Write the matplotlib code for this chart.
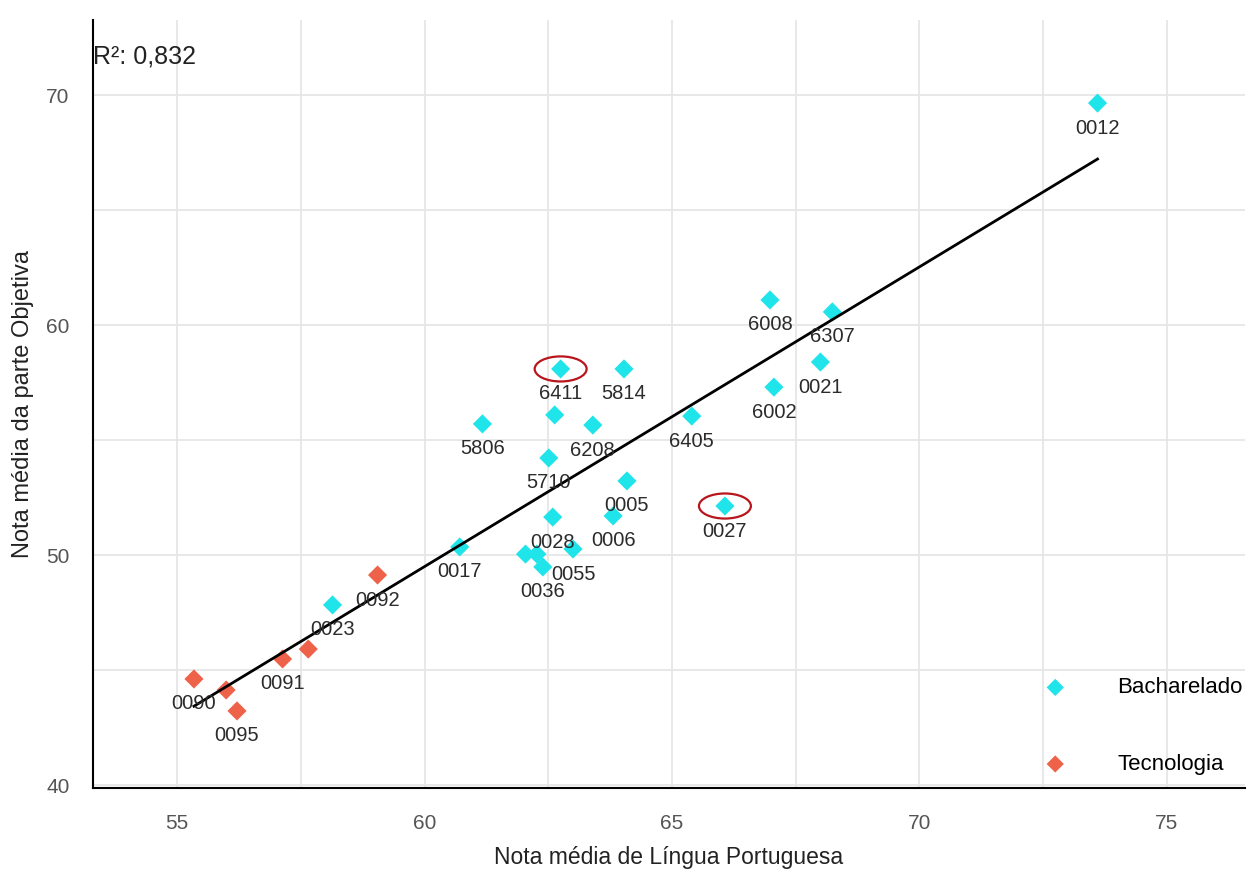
import numpy as np
import matplotlib
matplotlib.use('Agg')
from matplotlib import pyplot as plt
from matplotlib.patches import Ellipse
from matplotlib.ticker import MultipleLocator

plt.rcParams['font.family'] = ['Liberation Sans', 'DejaVu Sans']

# Bacharelado
bach_ids = ['0012', '6008', '6307', '0021', '6002', '6405', '6411', '5814', '', '5806',
            '6208', '5710', '0005', '0006', '0028', '0027', '0017', '', '', '0036',
            '0055', '0023']
bach_x = [73.60, 66.98, 68.24, 68.00, 67.06, 65.40, 62.75, 64.03, 62.63, 61.17,
          63.40, 62.51, 64.09, 63.81, 62.59, 66.07, 60.71, 62.04, 62.27, 62.39,
          63.00, 58.14]
bach_y = [69.65, 61.09, 60.57, 58.39, 57.30, 56.04, 58.09, 58.09, 56.09, 55.70,
          55.65, 54.22, 53.22, 51.70, 51.65, 52.13, 50.35, 50.04, 50.04, 49.48,
          50.26, 47.83]

# Tecnologia
tec_ids = ['0092', '0091', '', '0090', '', '0095']
tec_x = [59.05, 57.13, 57.65, 55.34, 55.99, 56.21]
tec_y = [49.13, 45.48, 45.91, 44.61, 44.13, 43.22]

destaque = ['6411', '0027']  # pontos circulados
r2_txt = 'R²: 0,832'

cor_bach = '#1FE4EA'
cor_tec = '#EE624A'

fig = plt.figure(figsize=(12.52, 8.71), dpi=100)
ax = fig.add_axes([0.0743, 0.0953, 0.9201, 0.8817])

# grade estilo ggplot
ax.xaxis.set_major_locator(MultipleLocator(5))
ax.xaxis.set_minor_locator(MultipleLocator(2.5))
ax.yaxis.set_major_locator(MultipleLocator(10))
ax.yaxis.set_minor_locator(MultipleLocator(5))
ax.grid(True, which='both', color='#E6E6E6', lw=1.3, zorder=0)
ax.set_axisbelow(True)

ax.scatter(bach_x, bach_y, marker='D', s=95, color=cor_bach, edgecolors='none',
           label='Bacharelado', zorder=3)
ax.scatter(tec_x, tec_y, marker='D', s=95, color=cor_tec, edgecolors='none',
           label='Tecnologia', zorder=3)

# reta de regressão
all_x = np.array(bach_x + tec_x)
all_y = np.array(bach_y + tec_y)
a, b = np.polyfit(all_x, all_y, 1)
xs = np.array([all_x.min(), all_x.max()])
ax.plot(xs, a * xs + b, color='black', lw=2, zorder=4)

# rótulos
for ids, xv, yv in [(bach_ids, bach_x, bach_y), (tec_ids, tec_x, tec_y)]:
    for t, x, y in zip(ids, xv, yv):
        if t:
            ax.annotate(t, (x, y), xytext=(0, -18), textcoords='offset points',
                        ha='center', va='center', fontsize=14.5, color='#2B2B2B', zorder=5)
        if t in destaque:
            ax.add_patch(Ellipse((x, y), 1.05, 1.09, fill=False, ec='#B8161C', lw=1.6, zorder=6))

ax.text(0.0, 0.952, r2_txt, transform=ax.transAxes, ha='left', va='center',
        fontsize=18, color='#222222')

ax.set_xlim(53.30, 76.58)
ax.set_ylim(39.87, 73.26)

for s in ['top', 'right']:
    ax.spines[s].set_visible(False)
for s in ['left', 'bottom']:
    ax.spines[s].set_color('black')
    ax.spines[s].set_linewidth(1.5)

ax.tick_params(which='both', length=0)
ax.tick_params(axis='x', pad=19, labelsize=15, labelcolor='#555555')
ax.tick_params(axis='y', pad=17, labelsize=15, labelcolor='#555555')

ax.set_xlabel('Nota média de Língua Portuguesa', fontsize=16.5, color='#222222', labelpad=9)
ax.set_ylabel('Nota média da parte Objetiva', fontsize=17, color='#222222', labelpad=9)

ax.legend(loc='center left', bbox_to_anchor=(0.816, 0.0807), frameon=False,
          fontsize=16, labelspacing=2.5, handlelength=2, handletextpad=1.8,
          borderpad=0, borderaxespad=0, markerscale=0.9)

fig.savefig('out.png', dpi=100)
